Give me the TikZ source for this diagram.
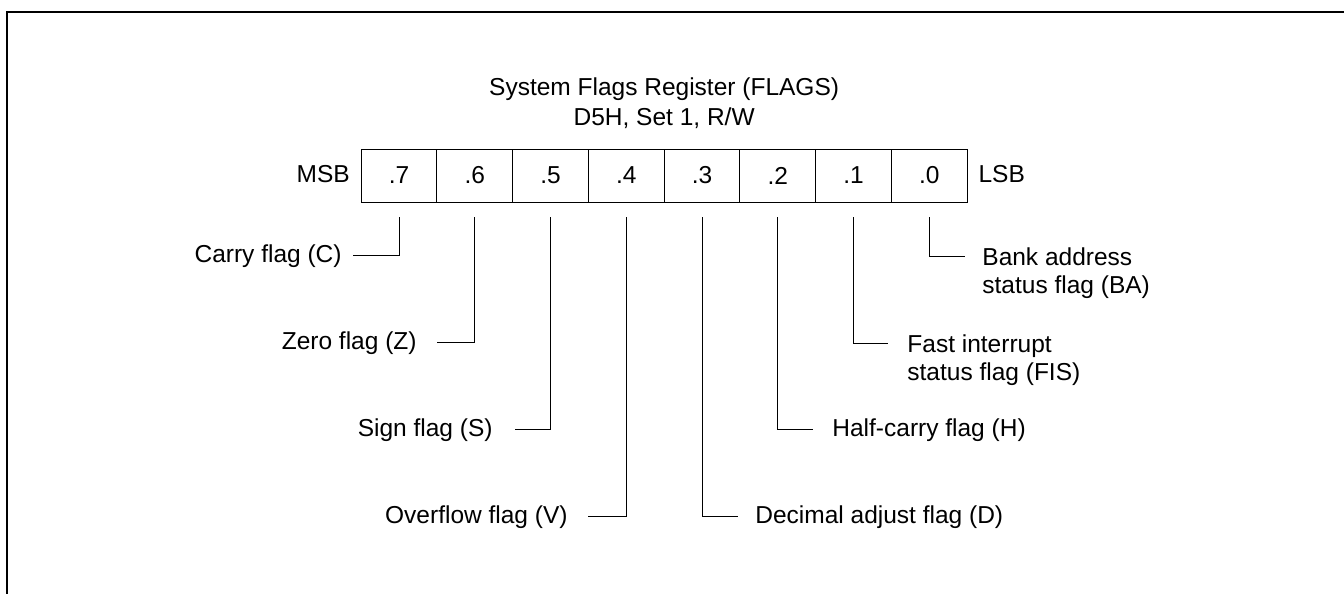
\documentclass[tikz,border=0pt]{standalone}
\usepackage{fontspec}
\setmainfont{Liberation Sans}
\usetikzlibrary{positioning}

\begin{document}
\begin{tikzpicture}[
  x=0.5pt, y=-0.5pt,
  font=\fontsize{12.25}{14.5}\selectfont,
  cell/.style={rectangle, draw, line width=0.5pt, minimum width=37.875pt,
    minimum height=26.5pt, inner sep=0pt, outer sep=0pt},
  flag/.style={inner sep=0pt, text height=0.716em, text depth=0pt},
  flagtwo/.style={inner sep=0pt, align=left, font=\fontsize{12.25}{14}\selectfont},
  leader/.style={line width=0.5pt},
  frame/.style={line width=1pt}
]
\useasboundingbox (0,0) rectangle (1344,594);
\draw[frame] (7,594) -- (7,12) -- (1344,12);

% register cells
\node[cell] (b7) at (399,175.5) {.7};
\node[cell, right=0pt of b7] (b6) {.6};
\node[cell, right=0pt of b6] (b5) {.5};
\node[cell, right=0pt of b5] (b4) {.4};
\node[cell, right=0pt of b4] (b3) {.3};
\node[cell, right=0pt of b3] (b2) {.2};
\node[cell, right=0pt of b2] (b1) {.1};
\node[cell, right=0pt of b1] (b0) {.0};
\node[flag, left=5.5pt of b7] (msb) {MSB};
\node[flag, right=5.5pt of b0] (lsb) {LSB};

\node[inner sep=0pt, align=center, font=\fontsize{12.25}{15}\selectfont,
  anchor=south, above=10pt of b4.north east] (title)
  {System Flags Register (FLAGS)\\D5H, Set 1, R/W};

% stub ends
\coordinate (e7) at (353,255);
\coordinate (e6) at (437,342);
\coordinate (e5) at (515,429);
\coordinate (e4) at (588,516);
\coordinate (e3) at (738,516);
\coordinate (e2) at (813,429);
\coordinate (e1) at (888,343);
\coordinate (e0) at (965,256);

\node[flag, left=5.5pt of e7] (carry) {Carry flag (C)};
\node[flag, left=10pt of e6] (zero) {Zero flag (Z)};
\node[flag, left=11pt of e5] (sign) {Sign flag (S)};
\node[flag, left=10pt of e4] (overflow) {Overflow flag (V)};
\node[flag, right=8.5pt of e3] (decimal) {Decimal adjust flag (D)};
\node[flag, right=9.5pt of e2] (halfcarry) {Half-carry flag (H)};
\node[flagtwo, right=9.5pt of e1, yshift=-8.5pt] (fis) {Fast interrupt\\status flag (FIS)};
\node[flagtwo, right=8.5pt of e0, yshift=-8.5pt] (bank) {Bank address\\status flag (BA)};

\draw[leader] ([yshift=-7.5pt]b7.south) |- (e7);
\draw[leader] ([yshift=-7.5pt]b6.south) |- (e6);
\draw[leader] ([yshift=-7.5pt]b5.south) |- (e5);
\draw[leader] ([yshift=-7.5pt]b4.south) |- (e4);
\draw[leader] ([yshift=-7.5pt]b3.south) |- (e3);
\draw[leader] ([yshift=-7.5pt]b2.south) |- (e2);
\draw[leader] ([yshift=-7.5pt]b1.south) |- (e1);
\draw[leader] ([yshift=-7.5pt]b0.south) |- (e0);
\end{tikzpicture}
\end{document}
